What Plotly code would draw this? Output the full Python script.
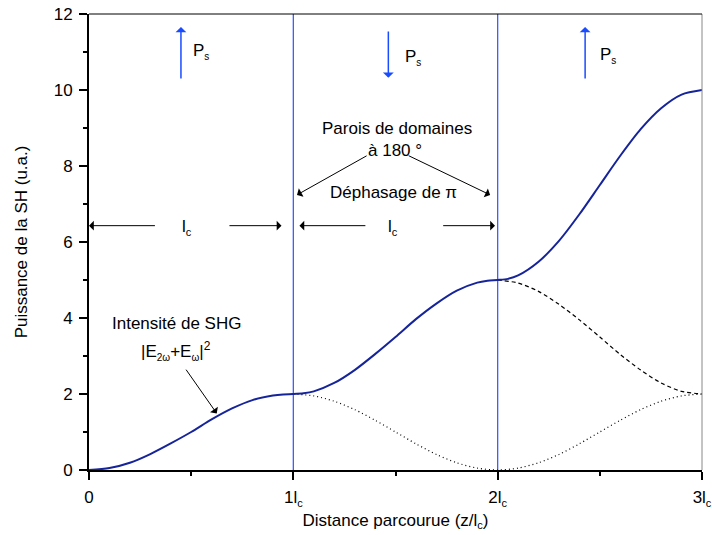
import plotly.graph_objects as go

# ---- data ----
z_all = [0.0, 0.1, 0.2, 0.3, 0.4, 0.5, 0.6, 0.7, 0.8, 0.9, 0.95, 1.0,
         1.05, 1.1, 1.2, 1.3, 1.4, 1.5, 1.6, 1.7, 1.8, 1.9, 1.95, 2.0,
         2.05, 2.1, 2.2, 2.3, 2.4, 2.5, 2.6, 2.7, 2.8, 2.9, 3.0]
shg_qpm = [0.00, 0.05, 0.19, 0.42, 0.70, 1.00, 1.33, 1.62, 1.84, 1.96, 1.99, 2.00,
           2.02, 2.07, 2.29, 2.63, 3.05, 3.50, 3.97, 4.38, 4.72, 4.93, 4.98, 5.00,
           5.03, 5.12, 5.48, 6.03, 6.73, 7.50, 8.27, 8.97, 9.52, 9.88, 10.00]

z_dotted = [1.0, 1.1, 1.2, 1.3, 1.4, 1.5, 1.6, 1.7, 1.8, 1.9, 2.0,
            2.1, 2.2, 2.3, 2.4, 2.5, 2.6, 2.7, 2.8, 2.9, 3.0]
shg_nopm = [2.00, 1.95, 1.81, 1.59, 1.31, 1.00, 0.69, 0.41, 0.19, 0.05, 0.00,
            0.05, 0.19, 0.41, 0.69, 1.00, 1.31, 1.59, 1.81, 1.95, 2.00]

z_dashed = [2.0, 2.1, 2.2, 2.3, 2.4, 2.5, 2.6, 2.7, 2.8, 2.9, 3.0]
shg_one_wall = [5.00, 4.92, 4.70, 4.36, 3.95, 3.50, 3.04, 2.63, 2.29, 2.07, 2.00]

domain_walls = [1, 2]

SUBC = "<sub><span style='font-size:11px'>c</span></sub>"
x_tickvals = [0, 1, 2, 3]
x_ticktext = ["0", "1l" + SUBC, "2l" + SUBC, "3l" + SUBC]
y_tickvals = [0, 2, 4, 6, 8, 10, 12]

FONT = "Arial, Liberation Sans, sans-serif"
BLUE_LINE = "#3c5cff"
BLUE_ARROW = "#1a4cff"

fig = go.Figure()
fig.add_trace(go.Scatter(x=z_dotted, y=shg_nopm, mode="lines",
                         line=dict(color="black", width=1.2, dash="1px,3px", shape="spline", smoothing=0.8),
                         showlegend=False))
fig.add_trace(go.Scatter(x=z_dashed, y=shg_one_wall, mode="lines",
                         line=dict(color="black", width=1.2, dash="4px,3px", shape="spline", smoothing=0.8),
                         showlegend=False))
fig.add_trace(go.Scatter(x=z_all, y=shg_qpm, mode="lines",
                         line=dict(color="#16249a", width=2, shape="spline", smoothing=0.8),
                         showlegend=False))

shapes = []
for w in domain_walls:
    shapes.append(dict(type="line", xref="x", yref="paper", x0=w, x1=w, y0=0, y1=1,
                       line=dict(color=BLUE_LINE, width=1.3), layer="below"))
# right frame line (grey)
shapes.append(dict(type="line", xref="paper", yref="paper", x0=1, x1=1, y0=0, y1=1,
                   line=dict(color="#888888", width=1)))
# top frame line
shapes.append(dict(type="line", xref="paper", yref="paper", x0=0, x1=1, y0=1, y1=1,
                   line=dict(color="black", width=1)))

ann = []

def arrow(xh, yh, xt, yt, color="black", width=1, size=1.6):
    ann.append(dict(x=xh, y=yh, ax=xt, ay=yt, xref="x", yref="y", axref="x", ayref="y",
                    text="", showarrow=True, arrowhead=1, arrowsize=size,
                    arrowwidth=width, arrowcolor=color, standoff=0, startstandoff=0))

def text(x, y, s, size=17, xanchor="center", yanchor="middle"):
    ann.append(dict(x=x, y=y, xref="x", yref="y", text=s, showarrow=False,
                    xanchor=xanchor, yanchor=yanchor,
                    font=dict(family=FONT, size=size, color="black")))

SUBS = "<sub><span style='font-size:10px'>s</span></sub>"

# Ps arrows
arrow(0.45, 11.66, 0.45, 10.26, BLUE_ARROW, 1.5, 1.2)
arrow(1.465, 10.32, 1.465, 11.58, BLUE_ARROW, 1.5, 1.2)
arrow(2.428, 11.66, 2.428, 10.26, BLUE_ARROW, 1.5, 1.2)
text(0.50, 11.02, "P" + SUBS, xanchor="left")
text(1.539, 10.85, "P" + SUBS, xanchor="left")
text(2.493, 10.90, "P" + SUBS, xanchor="left")

# domain wall labels
text(1.506, 9.0, "Parois de domaines")
text(1.497, 8.42, "à 180 °")
text(1.49, 7.29, "Déphasage de π")
arrow(1.018, 7.24, 1.366, 8.29)
arrow(1.963, 7.24, 1.557, 8.29)

# coherence length arrows
arrow(0.0, 6.43, 0.33, 6.43)
arrow(0.942, 6.43, 0.68, 6.43)
arrow(1.03, 6.43, 1.36, 6.43)
arrow(1.987, 6.43, 1.726, 6.43)
text(0.478, 6.38, "l" + SUBC)
text(1.49, 6.38, "l" + SUBC)

# SHG intensity label
text(0.43, 3.86, "Intensité de SHG")
text(0.425, 3.12, "|E<sub><span style='font-size:10px'>2ω</span></sub>+E<sub><span style='font-size:10px'>ω</span></sub>|<sup><span style='font-size:12px'>2</span></sup>")
arrow(0.625, 1.49, 0.47, 2.68)

fig.update_layout(
    width=712, height=535,
    margin=dict(l=89, r=10, t=14, b=65, autoexpand=False),
    paper_bgcolor="white", plot_bgcolor="white",
    font=dict(family=FONT, size=17, color="black"),
    shapes=shapes, annotations=ann,
    xaxis=dict(range=[0, 3], tickvals=x_tickvals, ticktext=x_ticktext,
               automargin=False,
               showline=True, linecolor="black", linewidth=2,
               ticks="outside", ticklen=8, tickwidth=1.5, tickcolor="black",
               ticklabelstandoff=3,
               minor=dict(dtick=0.5, ticks="outside", ticklen=4, tickwidth=1.5, tickcolor="black"),
               showgrid=False, zeroline=False, tickfont=dict(size=17),
               title=dict(text="Distance parcourue (z/l" + SUBC + ")", font=dict(size=17), standoff=6)),
    yaxis=dict(range=[0, 12], tickvals=y_tickvals,
               automargin=False,
               showline=True, linecolor="black", linewidth=2,
               ticks="outside", ticklen=8, tickwidth=1.5, tickcolor="black",
               ticklabelstandoff=3,
               minor=dict(dtick=1, ticks="outside", ticklen=4, tickwidth=1.5, tickcolor="black"),
               showgrid=False, zeroline=False, tickfont=dict(size=17),
               title=dict(text="Puissance de la SH (u.a.)", font=dict(size=17), standoff=22)),
)

fig.write_html("out.html")
